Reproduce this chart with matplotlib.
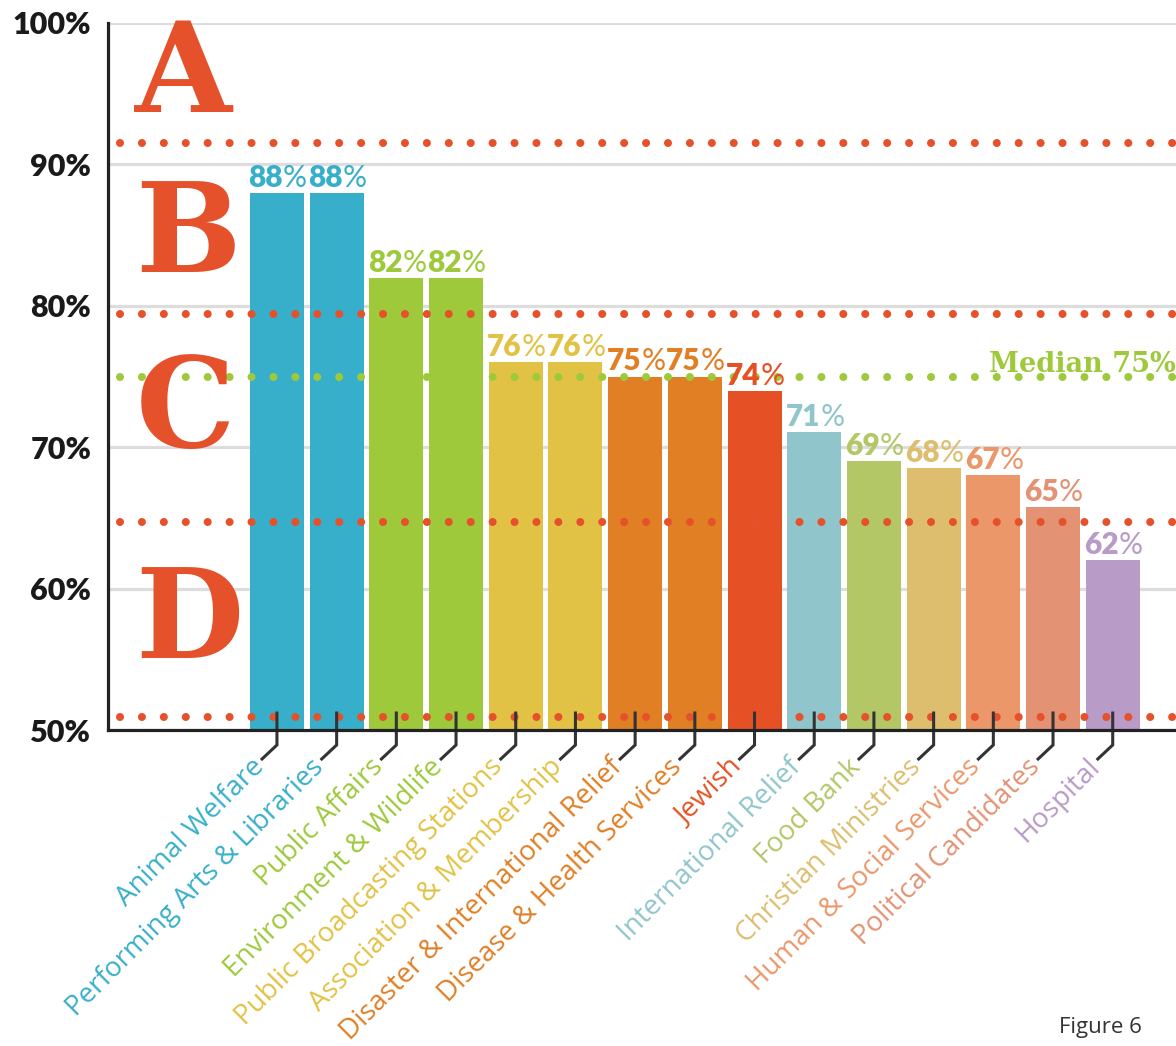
import matplotlib
matplotlib.use("Agg")
import matplotlib.pyplot as plt

# ---------------- data ----------------
categories = ["Animal Welfare", "Performing Arts & Libraries", "Public Affairs",
              "Environment & Wildlife", "Public Broadcasting Stations",
              "Association & Membership", "Disaster & International Relief",
              "Disease & Health Services", "Jewish", "International Relief",
              "Food Bank", "Christian Ministries", "Human & Social Services",
              "Political Candidates", "Hospital"]
values = [88, 88, 82, 82, 76, 76, 75, 75, 74, 71.1, 69, 68.5, 68, 65.8, 62]
value_labels = ["88", "88", "82", "82", "76", "76", "75", "75", "74", "71",
                "69", "68", "67", "65", "62"]
colors = ["#38AFCA", "#38AFCA", "#9DC93B", "#9DC93B", "#E2C244", "#E2C244",
          "#E07F24", "#E07F24", "#E55124", "#8FC5CB", "#B3C767", "#DCBE6E",
          "#EC976A", "#E39274", "#B89BC6"]
grade_cutoffs = [91.5, 79.4, 64.7, 50.9]
grade_letters = ["A", "B", "C", "D"]
grade_letter_base = [43.7, 32.4, 20.0, 5.1]   # baselines (value above 50)
median_value = 75
ytick_values = [50, 60, 70, 80, 90, 100]

ORANGE = "#E5512A"
GREEN = "#9DC93B"

fig = plt.figure(figsize=(11.76, 10.46), dpi=100)
ax = fig.add_axes([108 / 1176, 316 / 1046, 1068 / 1176, 707 / 1046])
xmin, xmax = -2.83, 15.06
ax.set_xlim(xmin, xmax)
ax.set_ylim(50, 100)

# grid
for v in ytick_values[1:]:
    ax.axhline(v, color="#DDDDDD", lw=2.3, zorder=1)

# bars
x = list(range(len(categories)))
ax.bar(x, [v - 50 for v in values], bottom=50, width=0.905, color=colors,
       zorder=2, clip_on=False)

# dotted grade lines
dot_ls = (0, (0.001, 2.72))
for c in grade_cutoffs:
    ax.plot([xmin + 0.2, xmax + 0.5], [c, c], color=ORANGE, lw=5.8, ls=dot_ls,
            dash_capstyle="round", zorder=3, clip_on=False)
ax.plot([xmin + 0.2, xmax + 0.5], [median_value, median_value], color=GREEN,
        lw=5.8, ls=dot_ls, dash_capstyle="round", zorder=3, clip_on=False)

# grade letters
for letter, base in zip(grade_letters, grade_letter_base):
    ax.text(-2.37, 50 + base, letter, color=ORANGE, fontsize=90,
            family="DejaVu Serif", weight="bold", ha="left", va="baseline",
            zorder=4)

# median label
ax.text(11.92, median_value + 0.35, "Median 75%", color=GREEN, fontsize=19.5,
        family="DejaVu Serif", weight="bold", ha="left", va="baseline",
        zorder=4, clip_on=False)

# value labels
for i, (v, lab, col) in enumerate(zip(values, value_labels, colors)):
    ax.annotate(lab, xy=(i, v), xytext=(6, 6), textcoords="offset pixels",
                ha="right", va="baseline", color=col, fontsize=21.5,
                family="Lato", weight="heavy", zorder=5)
    ax.annotate("%", xy=(i, v), xytext=(6, 6), textcoords="offset pixels",
                ha="left", va="baseline", color=col, fontsize=21.5,
                family="Lato", weight="normal", zorder=5)

# bent tick marks and rotated category labels
for i, (cat, col) in enumerate(zip(categories, colors)):
    ax.plot([i, i, i - 0.25], [51.2, 48.94, 47.95], color="#333333", lw=2.2,
            solid_joinstyle="miter", clip_on=False, zorder=6)
    ax.annotate(cat, xy=(i, 0), xycoords=ax.get_xaxis_transform(),
                xytext=(-17, -33), textcoords="offset pixels", rotation=45,
                rotation_mode="anchor", ha="right", va="center", color=col,
                fontsize=20, family="Open Sans")

# axes styling
ax.set_xticks([])
ax.set_yticks(ytick_values)
ax.set_yticklabels([f"{v}%" for v in ytick_values], fontsize=22,
                   family="Lato", weight="heavy", color="#1A1A1A")
ax.tick_params(axis="y", length=0, pad=12)
for s in ["top", "right"]:
    ax.spines[s].set_visible(False)
for s in ["left", "bottom"]:
    ax.spines[s].set_color("#222222")
    ax.spines[s].set_linewidth(2.3)
    ax.spines[s].set_zorder(7)

fig.text(1142 / 1176, 13 / 1046, "Figure 6", ha="right", va="baseline",
         fontsize=16, family="Open Sans", color="#333333")

fig.savefig("out.png", dpi=100)
